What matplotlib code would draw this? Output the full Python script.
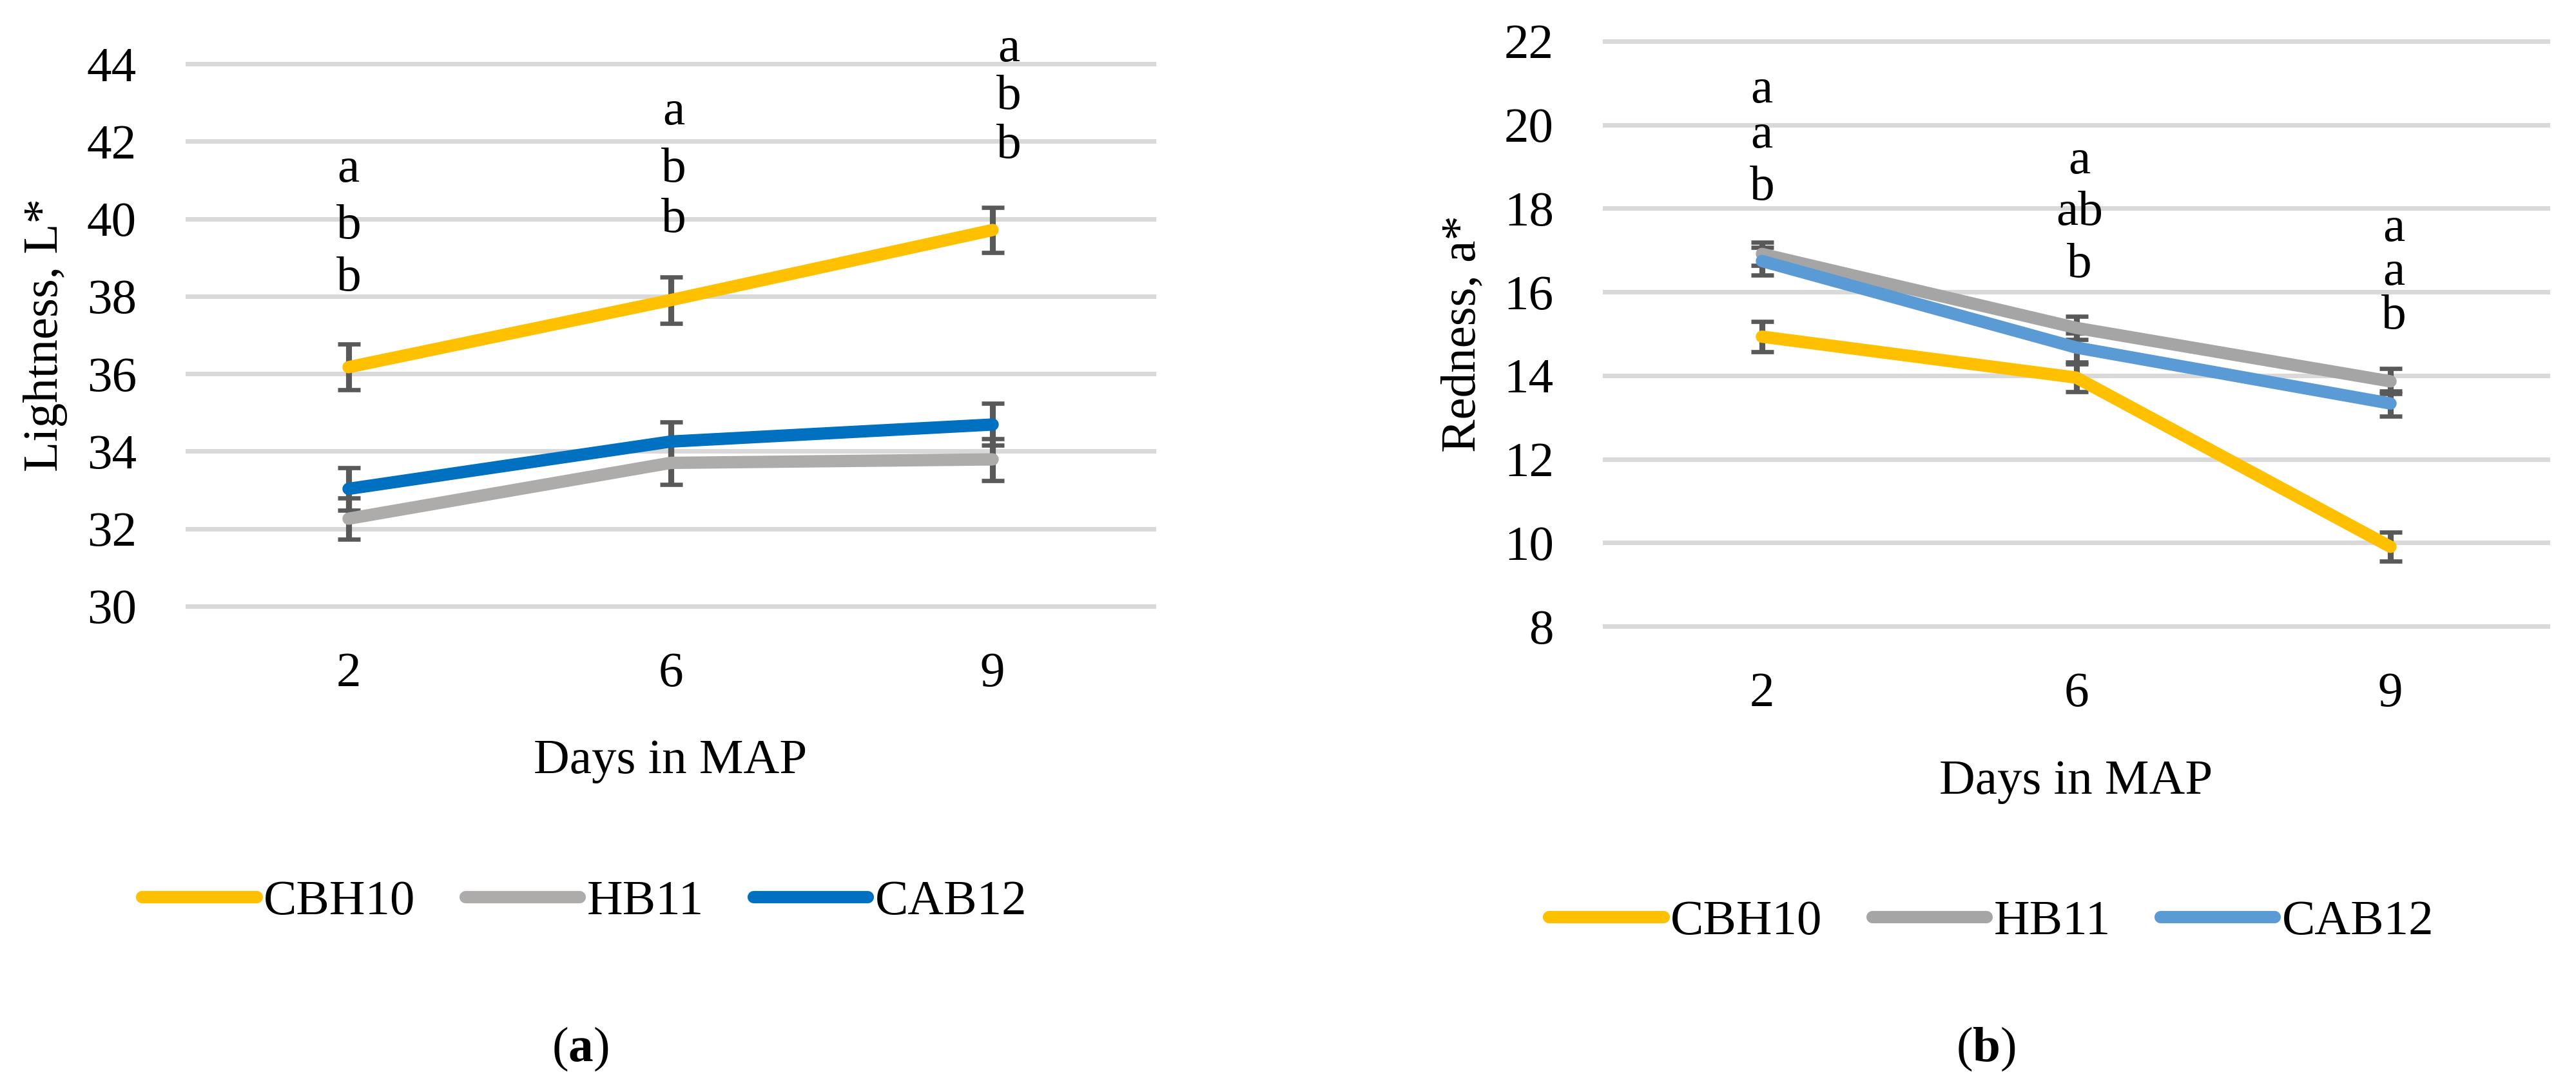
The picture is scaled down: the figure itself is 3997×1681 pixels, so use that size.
import matplotlib
matplotlib.use("Agg")
import matplotlib.pyplot as plt

plt.rcParams['font.family'] = ['Liberation Serif', 'DejaVu Serif']
plt.rcParams['mathtext.fontset'] = 'custom'
plt.rcParams['mathtext.rm'] = 'Liberation Serif'
plt.rcParams['mathtext.bf'] = 'Liberation Serif:bold'

days = ['2', '6', '9']
series = ['CBH10', 'HB11', 'CAB12']

# (a) lightness L*
light_cbh10 = [36.17, 37.90, 39.71]
light_hb11 = [32.26, 33.70, 33.79]
light_cab12 = [33.03, 34.25, 34.69]
light_cbh10_err = [0.59, 0.60, 0.59]
light_hb11_err = [0.53, 0.55, 0.54]
light_cab12_err = [0.55, 0.50, 0.54]
light_letters = [['a', 'b', 'b'], ['a', 'b', 'b'], ['a', 'b', 'b']]
light_letter_y = [[40.96, 39.50, 38.14], [42.43, 40.96, 39.66], [44.07, 42.84, 41.57]]

# (b) redness a*
red_cbh10 = [14.93, 13.95, 9.90]
red_hb11 = [16.91, 15.14, 13.86]
red_cab12 = [16.74, 14.67, 13.33]
red_cbh10_err = [0.36, 0.33, 0.35]
red_hb11_err = [0.28, 0.28, 0.30]
red_cab12_err = [0.33, 0.35, 0.30]
red_letters = [['a', 'a', 'b'], ['a', 'ab', 'b'], ['a', 'a', 'b']]
red_letter_y = [[20.53, 19.45, 18.21], [18.84, 17.60, 16.36], [17.22, 16.17, 15.12]]

W, H = 3997, 1681
fig = plt.figure(figsize=(W / 300, H / 300), dpi=300)
FS = 18.5


def panel(rect, vals, errs, colors, ylim, yticks, ylabel, letters, letter_y, letter_dx, xlabpad):
    ax = fig.add_axes(rect)
    x = list(range(len(days)))
    for v, e, c, name in zip(vals, errs, colors, series):
        ax.errorbar(x, v, yerr=e, fmt='none', ecolor='#595959', elinewidth=2.2,
                    capsize=4.2, capthick=1.6, zorder=2)
        ax.plot(x, v, color=c, lw=4.6, solid_capstyle='round',
                solid_joinstyle='round', label=name, zorder=3)
    ax.set_xlim(-0.5, len(days) - 0.5)
    ax.set_ylim(*ylim)
    ax.set_yticks(yticks)
    ax.set_xticks(x)
    ax.set_xticklabels(days)
    ax.grid(axis='y', color='#d9d9d9', lw=1.7, zorder=0)
    for gl in ax.get_ygridlines():
        gl.set_clip_on(False)
    for s in ax.spines.values():
        s.set_visible(False)
    ax.tick_params(axis='y', length=0, pad=19, labelsize=FS)
    ax.tick_params(axis='x', length=0, pad=17, labelsize=FS)
    ax.set_xlabel('Days in MAP', fontsize=FS, labelpad=xlabpad)
    ax.set_ylabel(ylabel, fontsize=FS, labelpad=7)
    for i, (labs, ys) in enumerate(zip(letters, letter_y)):
        for lab, yy in zip(labs, ys):
            ax.text(i + letter_dx[i], yy, lab, ha='center', va='baseline',
                    fontsize=FS, clip_on=False)
    return ax


ax1 = panel([291 / W, 1 - 941 / H, 1499 / W, 842 / H],
            [light_cbh10, light_hb11, light_cab12],
            [light_cbh10_err, light_hb11_err, light_cab12_err],
            ['#FFC000', '#AEABAB', '#0070C0'],
            (30, 44), range(30, 45, 2), 'Lightness, L*',
            light_letters, light_letter_y, [0.0, 0.01, 0.05], 16)

ax2 = panel([2490 / W, 1 - 972 / H, 1463 / W, 908 / H],
            [red_cbh10, red_hb11, red_cab12],
            [red_cbh10_err, red_hb11_err, red_cab12_err],
            ['#FFC000', '#A5A5A5', '#5B9BD5'],
            (8, 22), range(8, 23, 2), 'Redness, a*',
            red_letters, red_letter_y, [0.0, 0.01, 0.01], 16)

for ax, cx, cy in [(ax1, 907, 1400), (ax2, 3090, 1431)]:
    h, l = ax.get_legend_handles_labels()
    fig.legend(h, l, loc='center', bbox_to_anchor=(cx / W, 1 - cy / H), ncol=3,
               frameon=False, fontsize=FS, handlelength=2.3, handletextpad=0.15,
               columnspacing=1.0, borderpad=0)

fig.text(900 / W, 1 - 1628 / H, r'($\mathbf{a}$)', ha='center', va='center', fontsize=FS)
fig.text(3081 / W, 1 - 1628 / H, r'($\mathbf{b}$)', ha='center', va='center', fontsize=FS)

fig.savefig('out.png', dpi=300, facecolor='white')
